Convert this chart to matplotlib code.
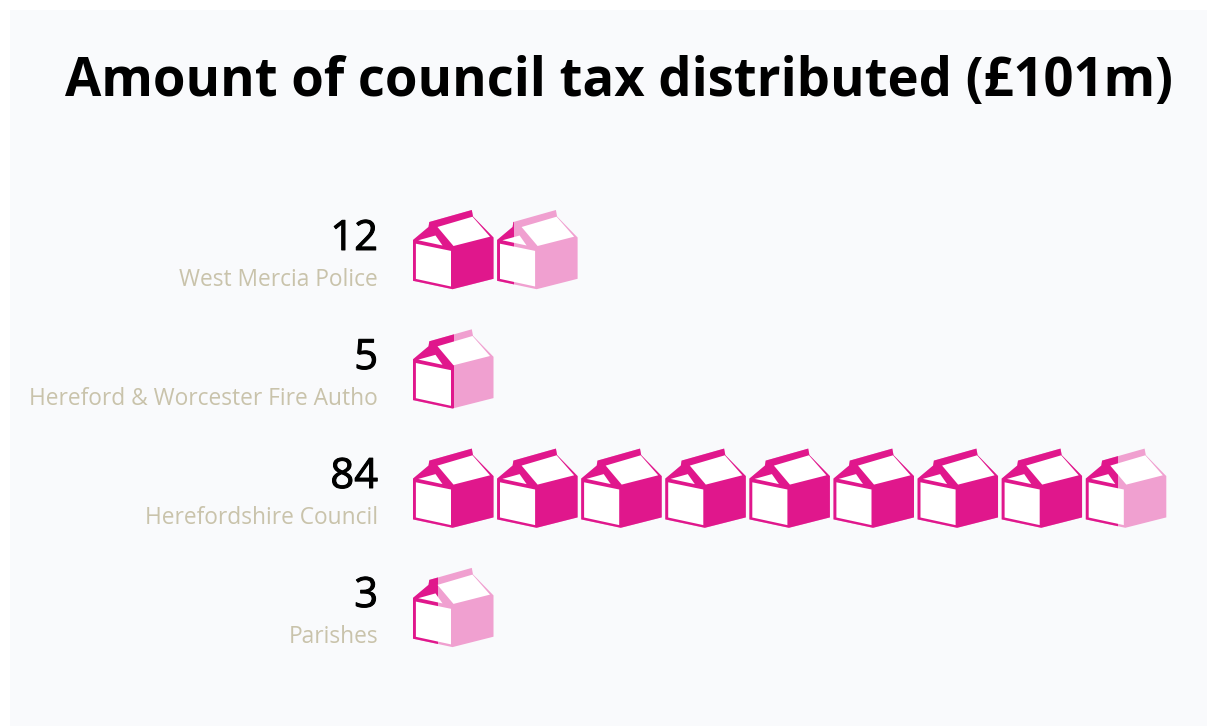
#!/usr/bin/env python3
"""Pictogram: council tax distributed, one carton = 10 (GBP m)."""
import math
import matplotlib
matplotlib.use("Agg")
import matplotlib.pyplot as plt
import matplotlib.patheffects as pe
from matplotlib.patches import Polygon, Rectangle

TITLE = "Amount of council tax distributed (£101m)"
NAMES = ["West Mercia Police", "Hereford & Worcester Fire Autho", "Herefordshire Council", "Parishes"]
VALUES = [12, 5, 84, 3]
PER_ICON = 10

OUTER = "#ffffff"; PANEL = "#f9fafc"; INK = "#000000"; MUTED = "#c9c3ab"
DARK = "#e0178c"; PALE = "#f0a0d0"
plt.rcParams["font.family"] = ["Open Sans", "Noto Sans", "DejaVu Sans"]

# carton glyph, px relative to its top left corner
W = 80.0
SILH = [(-0.5, 29.5), (15, 16.5), (15.8, 11.5), (58.3, -0.5), (59.5, 6), (80, 27), (80, 68.3), (39, 78.7), (-0.5, 70.3)]
FRONT = [(2.4, 33.2), (37.5, 40.4), (37.5, 76), (2.4, 68.4)]
GABLE = [(4.8, 29.8), (22, 25), (29, 35)]
ROOF = [(24, 16.5), (59, 6.2), (76.5, 26.2), (40, 35.5)]

fig = plt.figure(figsize=(12.08, 7.27), dpi=100, facecolor=OUTER)
ax = fig.add_axes([0, 0, 1, 1])
ax.set_xlim(0, 1208); ax.set_ylim(727, 0); ax.axis("off")
ax.add_patch(Rectangle((10, 10), 1197, 716, fc=PANEL, ec="none"))

ax.text(619, 96, TITLE, ha="center", va="baseline", fontsize=37.9, fontweight="bold", color=INK)


def carton(x0, y0, frac):
    shift = lambda pts: [(x0 + a, y0 + b) for a, b in pts]
    ax.add_patch(Polygon(shift(SILH), fc=PALE, ec="none"))
    if frac > 0:
        dark = Polygon(shift(SILH), fc=DARK, ec="none")
        ax.add_patch(dark)
        dark.set_clip_path(Rectangle((x0 - 1, y0 - 2), W * frac + 1, 84, transform=ax.transData))
    for pts in (FRONT, GABLE, ROOF):
        ax.add_patch(Polygon(shift(pts), fc="#ffffff", ec="none"))


for r, (name, val) in enumerate(zip(NAMES, VALUES)):
    y = 210.5 + r * 119.3
    ty = 210.5 + r * 119
    ax.text(378, ty + 39.5, str(val), ha="right", va="baseline", fontsize=30, color=INK,
            path_effects=[pe.withStroke(linewidth=0.7, foreground=INK)])
    ax.text(378, ty + 75.5, name, ha="right", va="baseline", fontsize=16.4, color=MUTED)
    for i in range(math.ceil(val / PER_ICON)):
        carton(413.5 + i * 84.1, y, min(1, (val - i * PER_ICON) / PER_ICON))

fig.savefig("out.png", dpi=100, facecolor=OUTER)
